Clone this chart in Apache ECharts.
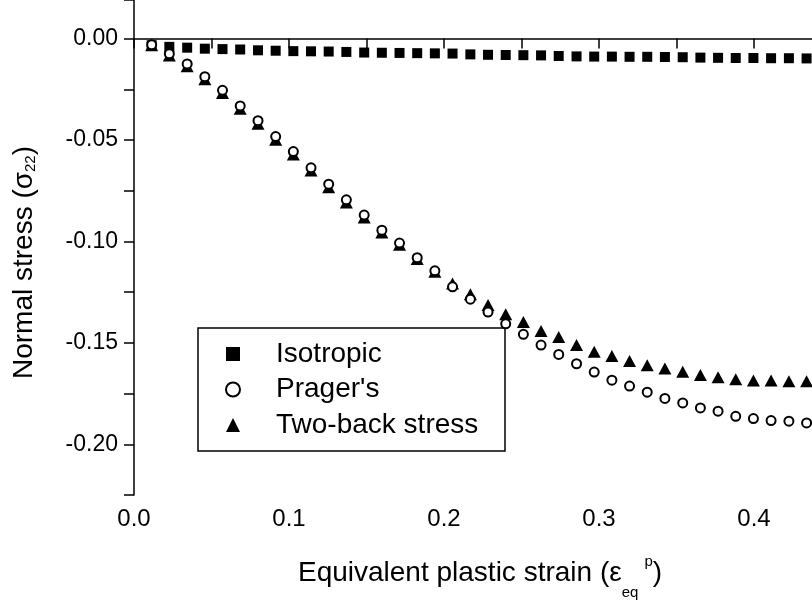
<!DOCTYPE html>
<html>
<head>
<meta charset="utf-8">
<script src="https://cdn.jsdelivr.net/npm/echarts@6/dist/echarts.min.js"></script>
<style>
  html, body { margin: 0; padding: 0; background: #fff; }
  #chart { width: 812px; height: 607px; }
</style>
</head>
<body>
<div id="chart"></div>
<script>
// equivalent plastic strain (x)
const strain = [
  0.0114, 0.0228, 0.0343, 0.0457, 0.0571, 0.0685, 0.0800, 0.0914, 0.1028, 0.1142,
  0.1256, 0.1370, 0.1485, 0.1599, 0.1713, 0.1827, 0.1941, 0.2055, 0.2170, 0.2284,
  0.2398, 0.2512, 0.2626, 0.2740, 0.2855, 0.2969, 0.3083, 0.3197, 0.3311, 0.3425,
  0.3540, 0.3654, 0.3768, 0.3882, 0.3996, 0.4110, 0.4225, 0.4339
];
// normal stress sigma22
const isotropic = [
  -0.0033, -0.0041, -0.0045, -0.0050, -0.0052, -0.0054, -0.0058, -0.0060, -0.0062, -0.0063,
  -0.0064, -0.0066, -0.0069, -0.0070, -0.0071, -0.0072, -0.0073, -0.0074, -0.0078, -0.0080,
  -0.0081, -0.0082, -0.0083, -0.0086, -0.0088, -0.0089, -0.0089, -0.0090, -0.0090, -0.0091,
  -0.0092, -0.0094, -0.0095, -0.0096, -0.0096, -0.0097, -0.0097, -0.0098
];
const prager = [
  -0.0030, -0.0075, -0.0125, -0.0188, -0.0255, -0.0332, -0.0405, -0.0483, -0.0557, -0.0637,
  -0.0718, -0.0795, -0.0870, -0.0945, -0.1008, -0.1080, -0.1145, -0.1224, -0.1285, -0.1348,
  -0.1406, -0.1458, -0.1511, -0.1557, -0.1603, -0.1644, -0.1684, -0.1713, -0.1743, -0.1774,
  -0.1796, -0.1821, -0.1837, -0.1862, -0.1873, -0.1883, -0.1886, -0.1895
];
const twoBack = [
  -0.0033, -0.0083, -0.0137, -0.0201, -0.0269, -0.0346, -0.0420, -0.0499, -0.0572, -0.0651,
  -0.0733, -0.0808, -0.0882, -0.0956, -0.1017, -0.1087, -0.1149, -0.1208, -0.1260, -0.1313,
  -0.1359, -0.1397, -0.1442, -0.1471, -0.1511, -0.1544, -0.1565, -0.1590, -0.1610, -0.1626,
  -0.1643, -0.1659, -0.1669, -0.1680, -0.1685, -0.1685, -0.1689, -0.1689
];
const seriesNames = ["Isotropic", "Prager's", "Two-back stress"];

const font = "'Liberation Sans', Arial, sans-serif";
const pairs = (ys) => strain.map((x, i) => [x, ys[i]]);

const chart = echarts.init(document.getElementById("chart"));
const option = {
  backgroundColor: "#fff",
  animation: false,
  grid: { left: 134, right: 0, top: 0, bottom: 112 },
  xAxis: {
    type: "value",
    min: 0,
    max: 0.4374,
    interval: 0.05,
    axisLine: { lineStyle: { color: "#000", width: 1.5 } },
    axisTick: { length: 10, lineStyle: { color: "#000", width: 1.5 } },
    splitLine: { show: false },
    axisLabel: {
      color: "#000",
      fontFamily: font,
      fontSize: 24,
      margin: 12,
      showMaxLabel: false,
      formatter: (v) => {
        const k = v / 0.1;
        return Math.abs(k - Math.round(k)) < 1e-6 ? v.toFixed(1) : "";
      },
    },
    name: "Equivalent plastic strain (ε{sub|eq}{sup|p})",
    nameLocation: "middle",
    nameGap: 51,
    nameTextStyle: {
      color: "#000",
      fontFamily: font,
      fontSize: 28,
      lineHeight: 54,
      padding: [0, 0, 0, 14],
      rich: {
        sub: { fontSize: 15, fontFamily: font, color: "#000", lineHeight: 14, verticalAlign: "bottom" },
        sup: { fontSize: 15, fontFamily: font, color: "#000", lineHeight: 34, verticalAlign: "top", padding: [8, 0, 0, 6] },
      },
    },
  },
  yAxis: {
    type: "value",
    min: -0.225,
    max: 0.019,
    interval: 0.025,
    axisLine: { show: true, lineStyle: { color: "#000", width: 1.5 } },
    axisTick: { show: true, length: 10, lineStyle: { color: "#000", width: 1.5 } },
    splitLine: { show: false },
    axisLabel: {
      color: "#000",
      fontFamily: font,
      fontSize: 23,
      margin: 16,
      formatter: (v) => {
        const k = v / 0.05;
        return Math.abs(k - Math.round(k)) < 1e-6 ? v.toFixed(2) : "";
      },
    },
    name: "Normal stress (σ{sub|22})",
    nameLocation: "middle",
    nameRotate: 90,
    nameGap: 96,
    nameTextStyle: {
      color: "#000",
      fontFamily: font,
      fontSize: 28,
      padding: [0, 30, 0, 0],
      rich: {
        sub: { fontSize: 15, fontFamily: font, color: "#000", lineHeight: 14, verticalAlign: "bottom" },
      },
    },
  },
  legend: {
    data: seriesNames,
    orient: "vertical",
    left: 225,
    top: 340,
    padding: 0,
    itemWidth: 14,
    itemHeight: 14,
    itemGap: 7.5,
    selectedMode: false,
    formatter: (name) => "{gap|}" + name,
    textStyle: {
      color: "#000",
      fontFamily: font,
      fontSize: 28,
      lineHeight: 28,
      rich: { gap: { width: 31 } },
    },
    z: 5,
  },
  graphic: [
    {
      type: "rect",
      shape: { x: 198, y: 328, width: 307, height: 123 },
      style: { fill: "none", stroke: "#000", lineWidth: 1.5 },
    },
  ],
  series: [
    {
      name: seriesNames[0],
      type: "scatter",
      symbol: "rect",
      symbolSize: 10,
      itemStyle: { color: "#000", opacity: 1 },
      data: pairs(isotropic),
      z: 1,
    },
    {
      name: seriesNames[1],
      type: "scatter",
      symbol: "emptyCircle",
      symbolSize: 9,
      itemStyle: { color: "#000", borderColor: "#000", borderWidth: 1.3, opacity: 1 },
      data: pairs(prager),
      z: 3,
    },
    {
      name: seriesNames[2],
      type: "scatter",
      symbol: "triangle",
      symbolSize: [13, 12],
      itemStyle: { color: "#000", opacity: 1 },
      data: pairs(twoBack),
      z: 2,
    },
  ],
};
chart.setOption(option);
</script>
</body>
</html>
